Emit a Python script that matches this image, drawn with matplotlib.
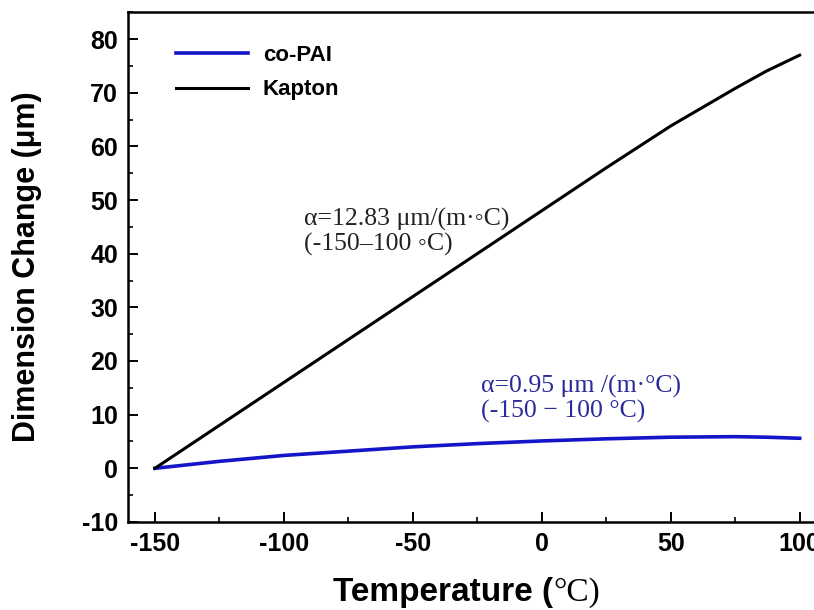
import matplotlib
matplotlib.use("Agg")
from matplotlib import pyplot as plt
from matplotlib.ticker import MultipleLocator

# Data

temperature = [-150, -125, -100, -75, -50, -25, 0, 25, 50, 75, 87, 100]

kapton = [0, 8.0, 16.0, 24.0, 32.0, 40.0, 48.0, 56.0, 63.8, 70.8, 74.0, 77.0]

co_pai = [0, 1.3, 2.4, 3.2, 4.0, 4.6, 5.1, 5.5, 5.8, 5.9, 5.8, 5.6]

x_ticks = [-150, -100, -50, 0, 50, 100]

y_ticks = [-10, 0, 10, 20, 30, 40, 50, 60, 70, 80]

sans = "Liberation Sans"
serif = ["Liberation Serif", "DejaVu Serif"]

plt.rcParams["axes.unicode_minus"] = False

fig = plt.figure(figsize=(8.14, 6.10), dpi=100)
ax = fig.add_axes([0.157, 0.1443, 0.846, 0.8357])

# Lines
ax.plot(temperature, co_pai, color="#1414c8", linewidth=2.6, label="co-PAI")
ax.plot(temperature, kapton, color="black", linewidth=2.2, label="Kapton")

# Axes ranges and ticks
ax.set_xlim(-160.5, 106.5)
ax.set_ylim(-10, 85)
ax.set_xticks(x_ticks)
ax.set_yticks(y_ticks)
ax.xaxis.set_minor_locator(MultipleLocator(25))
ax.yaxis.set_minor_locator(MultipleLocator(5))
ax.tick_params(which="major", direction="in", length=7, width=1.4, pad=7)
ax.tick_params(which="minor", direction="in", length=3.5, width=1.2)
for label in ax.get_xticklabels() + ax.get_yticklabels():
    label.set_fontfamily(sans)
    label.set_fontweight("bold")
    label.set_fontsize(18)
for spine in ax.spines.values():
    spine.set_linewidth(1.8)

# Axis labels
ax.set_ylabel("Dimension Change (μm)", fontfamily=sans, fontweight="bold", fontsize=22)
ax.yaxis.set_label_coords(-0.125, 0.5)
fig.text(553 / 814, 1 - 601 / 610, "Temperature (", fontfamily=sans, fontweight="bold",
         fontsize=24, ha="right", va="baseline")
fig.text(553 / 814, 1 - 601 / 610, "°C)", fontfamily=serif, fontsize=24,
         ha="left", va="baseline")

# Annotations
ax.text(-92, 48.5, "α=12.83 μm/(m·◦C)\n(-150–100 ◦C)", fontfamily=serif, fontsize=18.5,
        color="#222222", va="top", ha="left", linespacing=1.12)
ax.text(-23.5, 17.5, "α=0.95 μm /(m·°C)\n(-150 − 100 °C)", fontfamily=serif, fontsize=18.5,
        color="#2a2a9a", va="top", ha="left", linespacing=1.12)

# Legend
legend = ax.legend(loc="upper left", bbox_to_anchor=(0.054, 0.958), frameon=False,
                   borderpad=0, handlelength=3.25, handletextpad=0.65, labelspacing=0.62,
                   prop={"family": sans, "weight": "bold", "size": 16})

fig.savefig("out.png", dpi=100)
